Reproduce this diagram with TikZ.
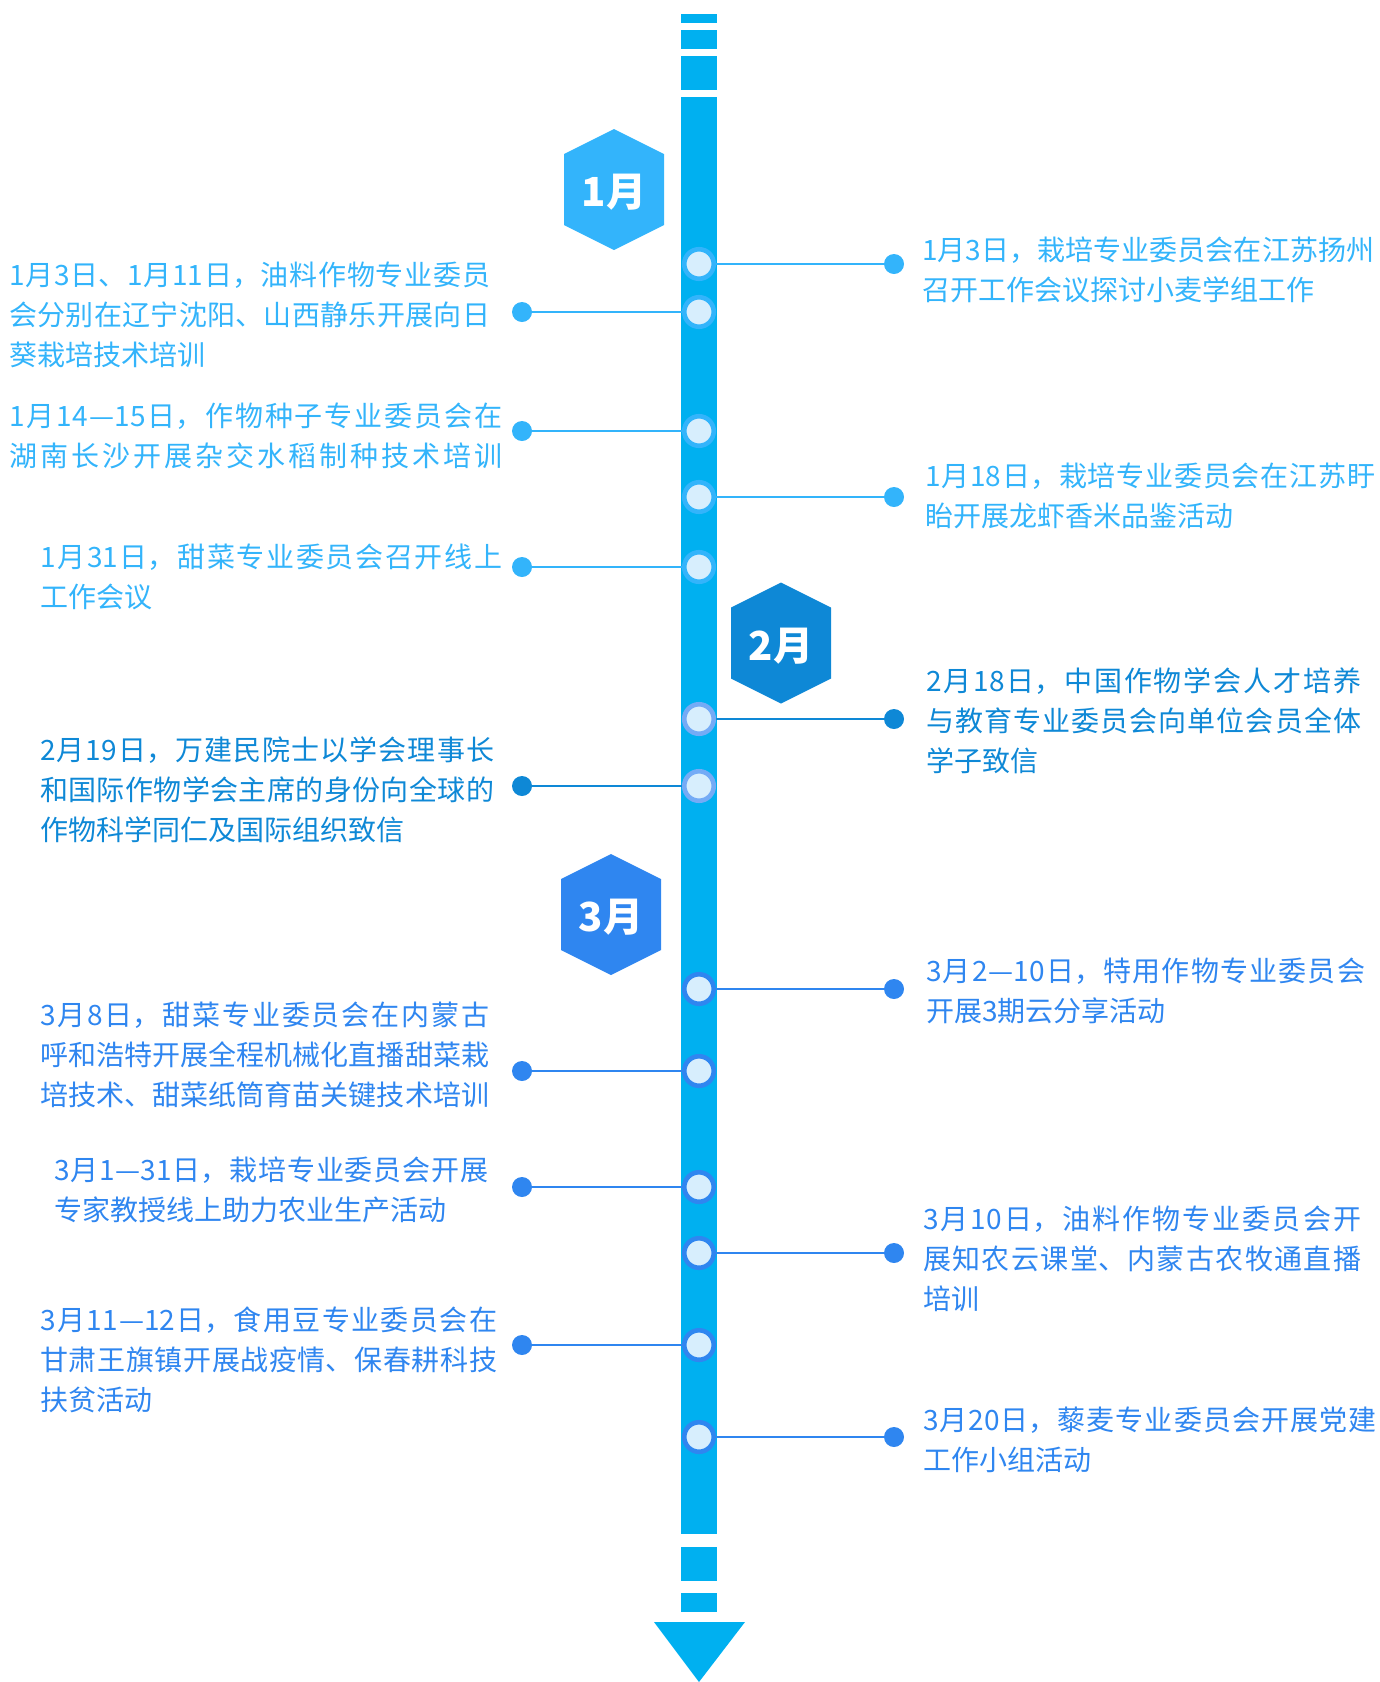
\documentclass[tikz,border=0pt]{standalone}
\usepackage{fontspec}
\setmainfont{Noto Sans CJK SC}
\XeTeXlinebreaklocale "zh"
\XeTeXlinebreakskip=0pt plus 6pt
\tolerance=10000
\hbadness=10000
\definecolor{barblue}{HTML}{00B0F0}
\definecolor{janblue}{HTML}{33B4FB}
\definecolor{febblue}{HTML}{0E88D6}
\definecolor{febring}{HTML}{74ABF6}
\definecolor{marblue}{HTML}{2F86F0}
\definecolor{dotfill}{HTML}{D7EEFD}
\tikzset{
  bardot/.style={circle,fill=dotfill,line width=4.6pt,minimum size=29.5pt,inner sep=0pt},
  enddot/.style={circle,minimum size=20pt,inner sep=0pt},
  link/.style={line width=2pt},
  note/.style={align=justify,inner sep=0pt,anchor=west,font=\fontsize{28}{40}\selectfont},
  monthlabel/.style={text=white,inner sep=0pt,font=\fontsize{40}{40}\selectfont\bfseries},
}
\begin{document}
\begin{tikzpicture}[x=1pt,y=-1pt]
    \useasboundingbox (0,0) rectangle (1380,1682);
    % the time bar
    \fill [barblue] (681,14) rectangle (717,23);
    \fill [barblue] (681,30) rectangle (717,49);
    \fill [barblue] (681,56) rectangle (717,90);
    \fill [barblue] (681,97) rectangle (717,1534);
    \fill [barblue] (681,1547) rectangle (717,1581);
    \fill [barblue] (681,1593) rectangle (717,1612);
    \fill [barblue] (654,1622) -- (745,1622) -- (699,1682) -- cycle;
    % months
    \fill [janblue] (614,189.5) ++(0,-60.5) -- ++(50,25) -- ++(0,71) -- ++(-50,25) -- ++(-50,-25) -- ++(0,-71) -- cycle;
    \node [monthlabel] (jan) at (614,192) {1月};
    \fill [febblue] (781,643) ++(0,-60.5) -- ++(50,25) -- ++(0,71) -- ++(-50,25) -- ++(-50,-25) -- ++(0,-71) -- cycle;
    \node [monthlabel] (feb) at (781,646) {2月};
    \fill [marblue] (611,914.5) ++(0,-60.5) -- ++(50,25) -- ++(0,71) -- ++(-50,25) -- ++(-50,-25) -- ++(0,-71) -- cycle;
    \node [monthlabel] (mar) at (611,917) {3月};
    % January
    \node [enddot,fill=janblue] (e1) at (894,264) {};
    \node [enddot,fill=janblue] (e2) at (522,312) {};
    \node [enddot,fill=janblue] (e3) at (522,431) {};
    \node [enddot,fill=janblue] (e4) at (894,497) {};
    \node [enddot,fill=janblue] (e5) at (522,567) {};
    \node [bardot,draw=janblue] (b1) at (699,264) {};
    \node [bardot,draw=janblue] (b2) at (699,312) {};
    \node [bardot,draw=janblue] (b3) at (699,431) {};
    \node [bardot,draw=janblue] (b4) at (699,497) {};
    \node [bardot,draw=janblue] (b5) at (699,567) {};
    \draw [link,janblue] (b1) -- (e1);
    \draw [link,janblue] (b2) -- (e2);
    \draw [link,janblue] (b3) -- (e3);
    \draw [link,janblue] (b4) -- (e4);
    \draw [link,janblue] (b5) -- (e5);
    \node [note,text=janblue,text width=452pt] (t1) at (922,270) {1月3日，栽培专业委员会在江苏扬州\linebreak 召开工作会议探讨小麦学组工作};
    \node [note,text=janblue,text width=481pt] (t2) at (9,315) {1月3日、1月11日，油料作物专业委员\linebreak 会分别在辽宁沈阳、山西静乐开展向日\linebreak 葵栽培技术培训};
    \node [note,text=janblue,text width=493pt] (t3) at (9,436) {\parfillskip=0pt 1月14—15日，作物种子专业委员会在\linebreak 湖南长沙开展杂交水稻制种技术培训\par};
    \node [note,text=janblue,text width=450pt] (t4) at (925,496) {1月18日，栽培专业委员会在江苏盱\linebreak 眙开展龙虾香米品鉴活动};
    \node [note,text=janblue,text width=462pt] (t5) at (40,577) {1月31日，甜菜专业委员会召开线上\linebreak 工作会议};
    % February
    \node [enddot,fill=febblue] (e6) at (894,719) {};
    \node [enddot,fill=febblue] (e7) at (522,786) {};
    \node [bardot,draw=febring] (b6) at (699,719) {};
    \node [bardot,draw=febring] (b7) at (699,786) {};
    \draw [link,febblue] (b6) -- (e6);
    \draw [link,febblue] (b7) -- (e7);
    \node [note,text=febblue,text width=435pt] (t6) at (926,721) {2月18日，中国作物学会人才培养\linebreak 与教育专业委员会向单位会员全体\linebreak 学子致信};
    \node [note,text=febblue,text width=454pt] (t7) at (40,790) {2月19日，万建民院士以学会理事长\linebreak 和国际作物学会主席的身份向全球的\linebreak 作物科学同仁及国际组织致信};
    % March
    \node [enddot,fill=marblue] (e8) at (894,989) {};
    \node [enddot,fill=marblue] (e9) at (522,1071) {};
    \node [enddot,fill=marblue] (e10) at (522,1187) {};
    \node [enddot,fill=marblue] (e11) at (894,1253) {};
    \node [enddot,fill=marblue] (e12) at (522,1345) {};
    \node [enddot,fill=marblue] (e13) at (894,1437) {};
    \node [bardot,draw=marblue] (b8) at (699,989) {};
    \node [bardot,draw=marblue] (b9) at (699,1071) {};
    \node [bardot,draw=marblue] (b10) at (699,1187) {};
    \node [bardot,draw=marblue] (b11) at (699,1253) {};
    \node [bardot,draw=marblue] (b12) at (699,1345) {};
    \node [bardot,draw=marblue] (b13) at (699,1437) {};
    \draw [link,marblue] (b8) -- (e8);
    \draw [link,marblue] (b9) -- (e9);
    \draw [link,marblue] (b10) -- (e10);
    \draw [link,marblue] (b11) -- (e11);
    \draw [link,marblue] (b12) -- (e12);
    \draw [link,marblue] (b13) -- (e13);
    \node [note,text=marblue,text width=439pt] (t8) at (926,991) {3月2—10日，特用作物专业委员会\linebreak 开展3期云分享活动};
    \node [note,text=marblue,text width=449pt] (t9) at (40,1055) {\parfillskip=0pt 3月8日，甜菜专业委员会在内蒙古\linebreak 呼和浩特开展全程机械化直播甜菜栽\linebreak 培技术、甜菜纸筒育苗关键技术培训\par};
    \node [note,text=marblue,text width=434pt] (t10) at (54,1190) {3月1—31日，栽培专业委员会开展\linebreak 专家教授线上助力农业生产活动};
    \node [note,text=marblue,text width=438pt] (t11) at (923,1259) {3月10日，油料作物专业委员会开\linebreak 展知农云课堂、内蒙古农牧通直播\linebreak 培训};
    \node [note,text=marblue,text width=457pt] (t12) at (40,1360) {3月11—12日，食用豆专业委员会在\linebreak 甘肃王旗镇开展战疫情、保春耕科技\linebreak 扶贫活动};
    \node [note,text=marblue,text width=453pt] (t13) at (923,1440) {3月20日，藜麦专业委员会开展党建\linebreak 工作小组活动};
\end{tikzpicture}
\end{document}
